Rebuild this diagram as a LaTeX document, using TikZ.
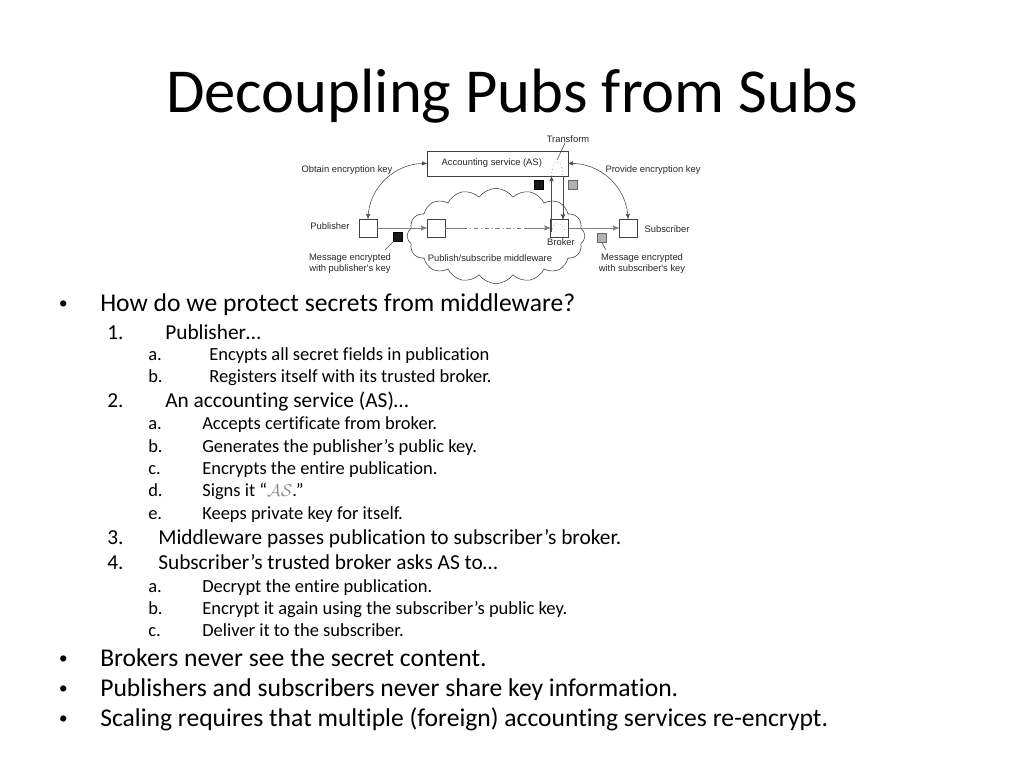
\documentclass[tikz,border=0pt]{standalone}
\usepackage{fontspec}
\setmainfont{Carlito}[Ligatures=NoCommon]
\newfontfamily\dgfont{Liberation Sans}
\usetikzlibrary{arrows,shapes}
\tikzstyle{bx} = [rectangle, draw=black!75, fill=white, minimum size=12.6pt, inner sep=0pt]
\tikzstyle{sqb} = [rectangle, draw=black, fill=black!90, minimum size=6.3pt, inner sep=0pt]
\tikzstyle{sqg} = [rectangle, draw=black!60, fill=black!30, minimum size=6.3pt, inner sep=0pt]
\tikzstyle{lb} = [font=\dgfont\fontsize{6.6}{7.8}\selectfont, text=black!85, inner sep=0pt, align=center]
\tikzstyle{ln} = [draw=black!50, line width=0.6pt]
\tikzstyle{ln2} = [draw=black!70, line width=0.4pt]
\tikzstyle{ttl} = [font=\fontsize{44}{52}\selectfont]
\tikzstyle{blt} = [anchor=base west, inner sep=0pt, font=\dgfont\fontsize{16}{19}\selectfont]
\tikzstyle{lva} = [anchor=base west, inner sep=0pt, font=\fontsize{18}{21}\selectfont]
\tikzstyle{lvb} = [anchor=base west, inner sep=0pt, font=\fontsize{15}{18}\selectfont]
\tikzstyle{lvc} = [anchor=base west, inner sep=0pt, font=\fontsize{13}{15}\selectfont]

\begin{document}
\begin{tikzpicture}[x=0.703pt,y=-0.703pt,>=stealth']
\useasboundingbox (0,0) rectangle (1024,768);

\node[ttl] (title) at (512,96) {Decoupling Pubs from Subs};

% diagram
\node[cloud, draw=black!75, line width=0.4pt, cloud puffs=16, cloud puff arc=110, cloud ignores aspect,
      minimum width=125pt, minimum height=67pt] (mw) at (496,236) {};
\node[bx, lb, minimum width=99pt, minimum height=17.6pt] (as) at (497.5,163.5) {Accounting service (AS)\hspace{8pt}};
\node[bx] (pub) at (368,228) {};
\node[bx] (mid) at (436,228) {};
\node[bx] (brk) at (559.5,228) {};
\node[bx] (sub) at (628,228) {};

\node[lb] (trl)  at (568,139) {Transform};
\node[lb] (obt)  at (347,170) {Obtain encryption key};
\node[lb] (prv)  at (653,170) {Provide encryption key};
\node[lb] (publ) at (330,226) {Publisher};
\node[lb] (subl) at (667,229) {Subscriber};
\node[lb] (brkl) at (561,242) {Broker};
\node[lb] (pmsg) at (350,264) {Message encrypted\\with publisher's key};
\node[lb] (smsg) at (642,264) {Message encrypted\\with subscriber's key};
\node[lb] (mwl)  at (490,258) {Publish/subscribe middleware};

\node[sqb] (k1) at (398,237) {};
\node[sqb] (k2) at (538.5,185) {};
\node[sqg] (k3) at (572.5,185) {};
\node[sqg] (k4) at (602,238) {};

\coordinate (d1) at (463,228);
\coordinate (d2) at (525,228);
\coordinate (u0) at (551.5,232);
\coordinate (u1) at (551.5,176.3);
\coordinate (v0) at (563,176.3);
\coordinate (v1) at (563,219.3);
\coordinate (tr) at (557,160);
\coordinate (p1) at (385,250);
\coordinate (p2) at (606,250);

\draw[ln,->] (pub) -- (mid);
\draw[ln] (mid) -- (d1);
\draw[ln,dash dot] (d1) -- (d2);
\draw[ln,->] (d2) -- (brk);
\draw[ln,->] (brk) -- (sub);

\draw[ln2,<->] (as.west) to[bend right=45] (pub.north);
\draw[ln2,<->] (as.east) to[bend left=45] (sub.north);
\draw[ln2,->] (u0) -- (u1);
\draw[ln2,->] (v0) -- (v1);
\draw[ln2,dotted] (u1) .. controls (552,158) and (561,156) .. (v0);
\draw[ln2,dotted] (u0) .. controls (553,221) and (561,221) .. (566,232);
\draw[ln2] ([xshift=-2pt]trl.south) -- (tr);
\draw[ln2] (k1.south west) -- (p1);
\draw[ln2] (k4.south) -- (p2);

% bullets
\node[blt] (b1) at (59,311) {•};
\node[lva] (t1) at (100,311) {How do we protect secrets from middleware?};
\node[lvb] (n1) at (107,339) {1.};
\node[lvb] (t11) at (165,339) {Publisher…};
\node[lvc] (n1a) at (148,360) {a.};
\node[lvc] (t1a) at (209,360) {Encypts all secret fields in publication};
\node[lvc] (n1b) at (148,382) {b.};
\node[lvc] (t1b) at (209,382) {Registers itself with its trusted broker.};
\node[lvb] (n2) at (107,407) {2.};
\node[lvb] (t2) at (165,407) {An accounting service (AS)…};
\node[lvc] (n2a) at (148,429) {a.};
\node[lvc] (t2a) at (202,429) {Accepts certificate from broker.};
\node[lvc] (n2b) at (148,452) {b.};
\node[lvc] (t2b) at (202,452) {Generates the publisher’s public key.};
\node[lvc] (n2c) at (148,474) {c.};
\node[lvc] (t2c) at (202,474) {Encrypts the entire publication.};
\node[lvc] (n2d) at (148,496) {d.};
\node[lvc] (t2d) at (202,496) {Signs it “{\color{black!45}$\mathcal{AS}$}.”};
\node[lvc] (n2e) at (148,519) {e.};
\node[lvc] (t2e) at (202,519) {Keeps private key for itself.};
\node[lvb] (n3) at (107,544) {3.};
\node[lvb] (t3) at (158,544) {Middleware passes publication to subscriber’s broker.};
\node[lvb] (n4) at (107,569) {4.};
\node[lvb] (t4) at (158,569) {Subscriber’s trusted broker asks AS to…};
\node[lvc] (n4a) at (148,592) {a.};
\node[lvc] (t4a) at (202,592) {Decrypt the entire publication.};
\node[lvc] (n4b) at (148,614) {b.};
\node[lvc] (t4b) at (202,614) {Encrypt it again using the subscriber’s public key.};
\node[lvc] (n4c) at (148,636) {c.};
\node[lvc] (t4c) at (202,636) {Deliver it to the subscriber.};
\node[blt] (b2) at (59,666) {•};
\node[lva] (t5) at (100,666) {Brokers never see the secret content.};
\node[blt] (b3) at (59,696) {•};
\node[lva] (t6) at (100,696) {Publishers and subscribers never share key information.};
\node[blt] (b4) at (59,726) {•};
\node[lva] (t7) at (100,726) {Scaling requires that multiple (foreign) accounting services re-encrypt.};
\end{tikzpicture}
\end{document}
